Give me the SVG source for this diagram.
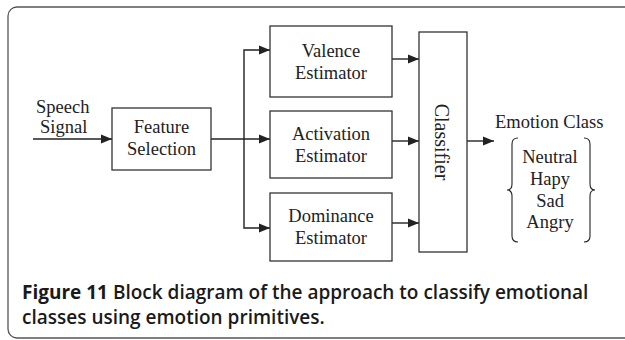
<svg xmlns="http://www.w3.org/2000/svg" width="625" height="340" viewBox="0 0 625 340">
<style>
.box{fill:#fff;stroke:#333;stroke-width:1.3}
.t{font-family:"Liberation Serif","Times New Roman",serif;font-size:18.5px;fill:#222}
.c{text-anchor:middle}
.ln{fill:none;stroke:#222;stroke-width:1.4}
.cap{font-family:"Open Sans","Liberation Sans",sans-serif;font-size:19px;font-weight:600;fill:#1a1a1a}
</style>
<defs>
<marker id="ah" markerUnits="userSpaceOnUse" markerWidth="11" markerHeight="10" viewBox="0 0 11 10" refX="11" refY="5" orient="auto">
<path d="M0,0.6 L11,5 L0,9.4 Z" fill="#222"/>
</marker>
</defs>
<rect x="8" y="7" width="640" height="331" rx="9" fill="none" stroke="#555" stroke-width="1.3"/>
<g id="connectors">
<line class="ln" x1="33" y1="139" x2="112" y2="139" marker-end="url(#ah)"/>
<line class="ln" x1="211" y1="139" x2="270" y2="139" marker-end="url(#ah)"/>
<polyline class="ln" points="244,139 244,50 270,50" marker-end="url(#ah)"/>
<polyline class="ln" points="244,139 244,228 270,228" marker-end="url(#ah)"/>
<line class="ln" x1="392" y1="59" x2="419" y2="59" marker-end="url(#ah)"/>
<line class="ln" x1="392" y1="141" x2="419" y2="141" marker-end="url(#ah)"/>
<line class="ln" x1="392" y1="223" x2="419" y2="223" marker-end="url(#ah)"/>
<line class="ln" x1="467" y1="141" x2="494" y2="141" marker-end="url(#ah)"/>
</g>
<g id="speech">
<text class="t" x="36" y="113">Speech</text>
<text class="t" x="40" y="133">Signal</text>
</g>
<g id="feature">
<rect class="box" x="112" y="108" width="99" height="62"/>
<text class="t c" x="161.5" y="133">Feature</text>
<text class="t c" x="161.5" y="155">Selection</text>
</g>
<g id="valence">
<rect class="box" x="270" y="26" width="122" height="71"/>
<text class="t c" x="331" y="57">Valence</text>
<text class="t c" x="331" y="79">Estimator</text>
</g>
<g id="activation">
<rect class="box" x="270" y="111" width="122" height="67"/>
<text class="t c" x="331" y="140">Activation</text>
<text class="t c" x="331" y="162">Estimator</text>
</g>
<g id="dominance">
<rect class="box" x="270" y="193" width="122" height="68"/>
<text class="t c" x="331" y="222">Dominance</text>
<text class="t c" x="331" y="244">Estimator</text>
</g>
<g id="classifier">
<rect class="box" x="419" y="32" width="48" height="220"/>
<text class="t c" style="font-size:20px" transform="translate(435,142) rotate(90)" x="0" y="0">Classifier</text>
</g>
<g id="emotion">
<text class="t" x="495" y="128">Emotion Class</text>
<path class="ln" style="stroke-width:1.1" d="M518,138 Q512,138 512,144 L512,184 Q512,190 507,190 Q512,190 512,196 L512,236 Q512,242 518,242"/>
<path class="ln" style="stroke-width:1.1" d="M584,138 Q590,138 590,144 L590,184 Q590,190 595,190 Q590,190 590,196 L590,236 Q590,242 584,242"/>
<text class="t c" x="550" y="163">Neutral</text>
<text class="t c" x="550" y="185">Hapy</text>
<text class="t c" x="550" y="207">Sad</text>
<text class="t c" x="550" y="228">Angry</text>
</g>
<g id="caption">
<text class="cap" x="22" y="299"><tspan font-weight="700">Figure 11</tspan> Block diagram of the approach to classify emotional</text>
<text class="cap" x="22" y="324">classes using emotion primitives.</text>
</g>
</svg>
